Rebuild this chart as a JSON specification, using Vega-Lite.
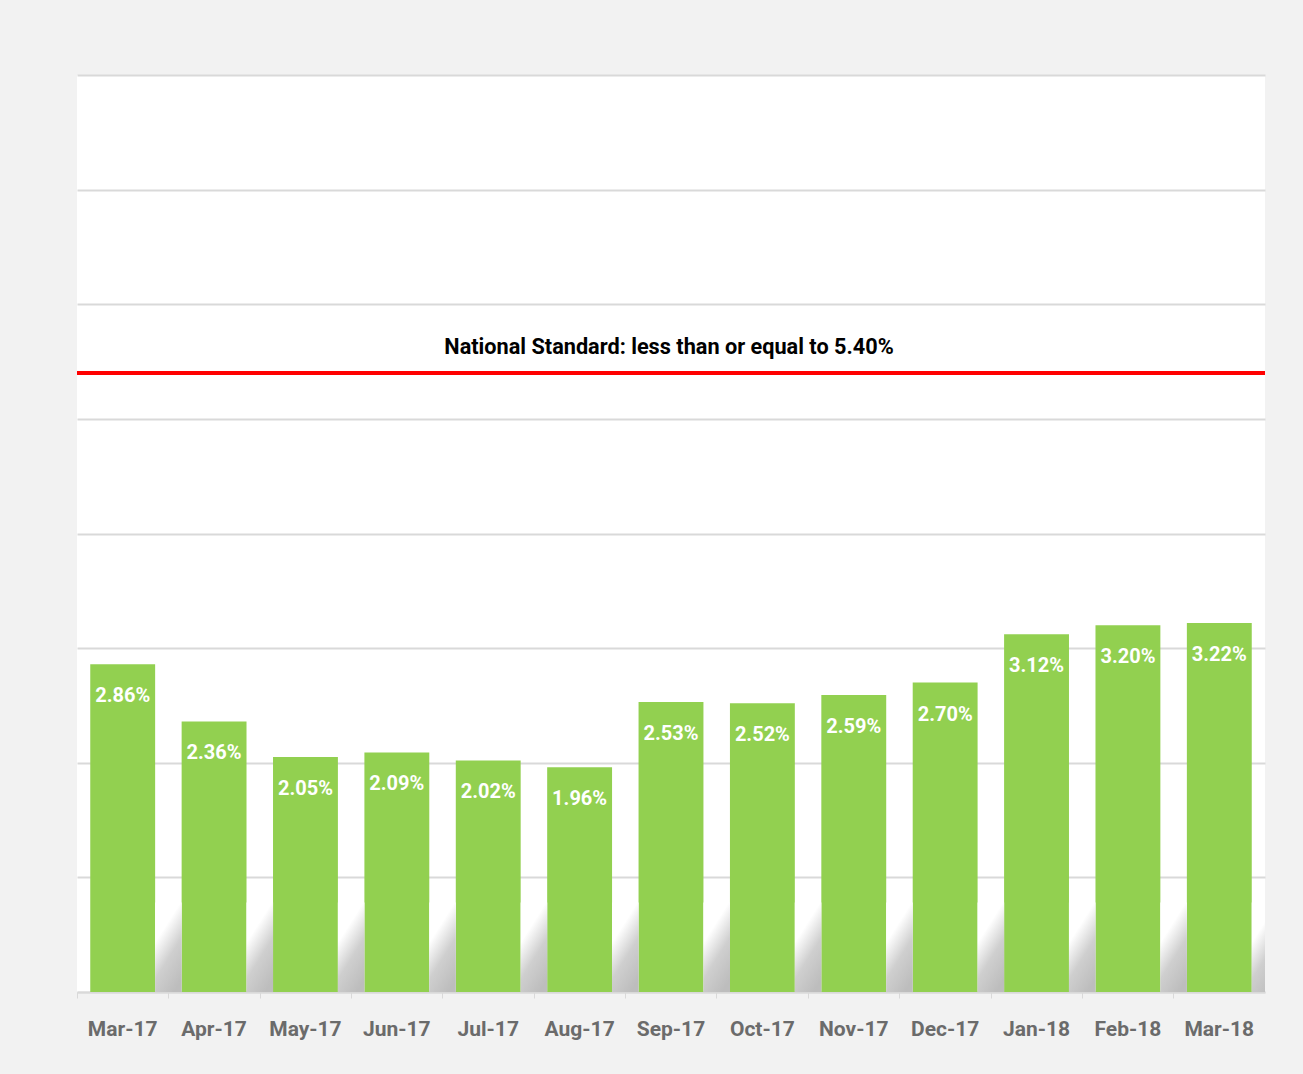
{
  "$schema": "https://vega.github.io/schema/vega-lite/v6.json",
  "autosize": "none",
  "width": 1188,
  "height": 917,
  "padding": {"left": 77, "top": 75, "right": 38, "bottom": 82},
  "background": "#f2f2f2",
  "config": {
    "view": {"fill": "#ffffff", "stroke": null},
    "font": "Roboto, sans-serif"
  },
  "datasets": {
    "rates": [
      {"month": "Mar-17", "rate": 0.0286},
      {"month": "Apr-17", "rate": 0.0236},
      {"month": "May-17", "rate": 0.0205},
      {"month": "Jun-17", "rate": 0.0209},
      {"month": "Jul-17", "rate": 0.0202},
      {"month": "Aug-17", "rate": 0.0196},
      {"month": "Sep-17", "rate": 0.0253},
      {"month": "Oct-17", "rate": 0.0252},
      {"month": "Nov-17", "rate": 0.0259},
      {"month": "Dec-17", "rate": 0.0270},
      {"month": "Jan-18", "rate": 0.0312},
      {"month": "Feb-18", "rate": 0.0320},
      {"month": "Mar-18", "rate": 0.0322}
    ],
    "standard": [
      {"value": 0.054, "label": "National Standard: less than or equal to 5.40%"}
    ]
  },
  "layer": [
    {
      "data": {"name": "rates"},
      "mark": {"type": "bar", "color": "#92d050"},
      "encoding": {
        "x": {
          "field": "month", "type": "nominal", "sort": null,
          "scale": {"paddingInner": 0.29, "paddingOuter": 0.145},
          "axis": {
            "title": null, "labelAngle": 0, "bandPosition": -0.2,
            "domainColor": "#d9d9d9", "domainWidth": 2,
            "tickColor": "#d9d9d9", "tickSize": 6, "tickWidth": 1,
            "labelColor": "#6b6b6b", "labelFontSize": 21, "labelFontWeight": "bold",
            "labelPadding": 20, "labelFont": "Roboto, sans-serif"
          }
        },
        "y": {
          "field": "rate", "type": "quantitative",
          "scale": {"domain": [0, 0.08], "nice": false},
          "axis": {
            "title": null, "labels": false, "ticks": false, "domain": false,
            "tickCount": 8, "grid": true, "gridColor": "#d9d9d9", "gridWidth": 2
          }
        }
      }
    },
    {
      "data": {"name": "rates"},
      "mark": {
        "type": "bar", "xOffset": 45.7, "width": {"band": 0.41}, "clip": true,
        "color": {
          "gradient": "linear", "x1": 0.7, "y1": 1, "x2": 0.3, "y2": 0.15,
          "stops": [
            {"offset": 0, "color": "#bdbdbd"},
            {"offset": 0.45, "color": "#cfcfcf"},
            {"offset": 0.85, "color": "#ffffff"},
            {"offset": 1, "color": "#ffffff"}
          ]
        }
      },
      "encoding": {
        "x": {"field": "month", "type": "nominal", "sort": null},
        "y": {"datum": 0, "type": "quantitative"},
        "y2": {"datum": 0.0078}
      }
    },
    {
      "data": {"name": "rates"},
      "mark": {
        "type": "text", "color": "#ffffff", "fontSize": 20, "fontWeight": "bold",
        "baseline": "middle", "dy": 32, "font": "Roboto, sans-serif"
      },
      "encoding": {
        "x": {"field": "month", "type": "nominal", "sort": null},
        "y": {"field": "rate", "type": "quantitative"},
        "text": {"field": "rate", "type": "quantitative", "format": ".2%"}
      }
    },
    {
      "data": {"name": "standard"},
      "mark": {"type": "rule", "color": "#ff0000", "strokeWidth": 4},
      "encoding": {
        "y": {"field": "value", "type": "quantitative"}
      }
    },
    {
      "data": {"name": "standard"},
      "mark": {
        "type": "text", "color": "#000000", "fontSize": 21.7, "fontWeight": "bold",
        "baseline": "alphabetic", "dy": -19, "align": "center",
        "font": "Roboto, sans-serif"
      },
      "encoding": {
        "y": {"field": "value", "type": "quantitative"},
        "x": {"value": 592},
        "text": {"field": "label"}
      }
    }
  ]
}
